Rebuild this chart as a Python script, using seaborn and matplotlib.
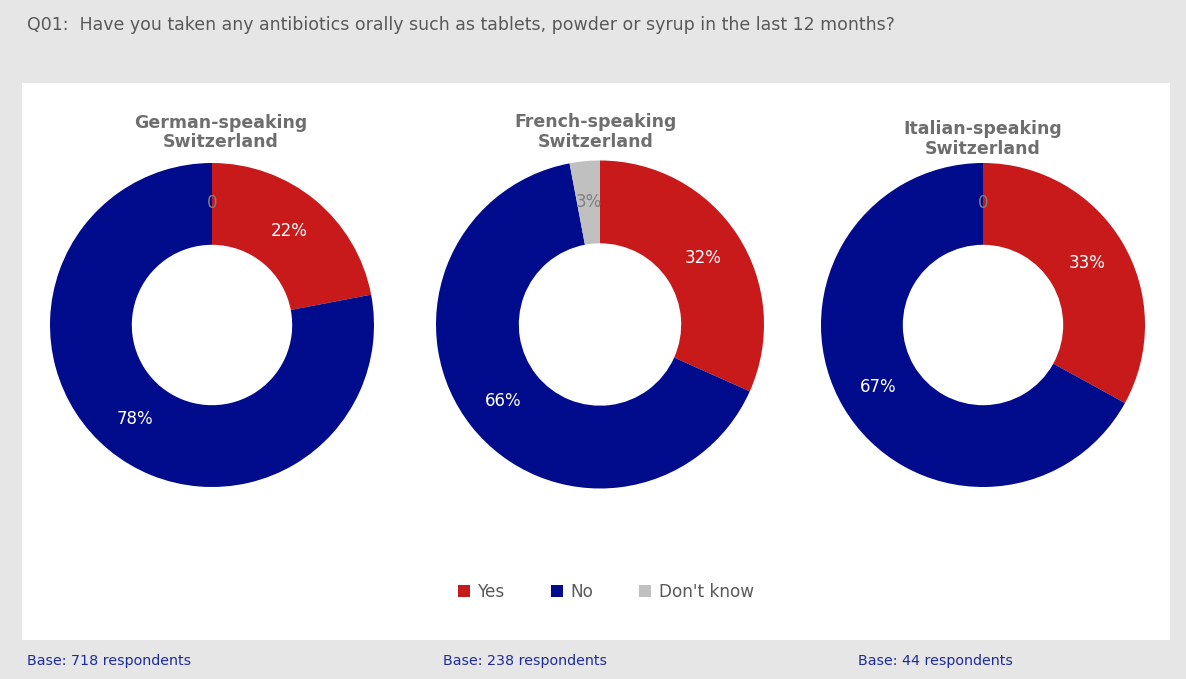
import matplotlib
matplotlib.use("Agg")
import matplotlib.pyplot as plt
from matplotlib.patches import Rectangle, Patch
import seaborn as sns

# ---- data ----
question = "Q01:  Have you taken any antibiotics orally such as tablets, powder or syrup in the last 12 months?"
regions = ["German-speaking\nSwitzerland", "French-speaking\nSwitzerland", "Italian-speaking\nSwitzerland"]
categories = ["Yes", "No", "Don't know"]
yes_vals = [22, 32, 33]
no_vals = [78, 66, 67]
dk_vals = [0, 3, 0]
bases = [718, 238, 44]

# ---- style ----
colors = ["#C8191B", "#000C8C", "#C0C0C0"]
label_colors = ["white", "white", "#7F7F7F"]
sns.set_theme(style="white")
plt.rcParams['font.family'] = ['DejaVu Sans']

W, H = 1186, 679
fig = plt.figure(figsize=(W / 100, H / 100), dpi=100, facecolor="#E6E6E6")
fig.patches.append(Rectangle((22 / W, 1 - 640 / H), (1170 - 22) / W, (640 - 83) / H,
                             transform=fig.transFigure, facecolor="white",
                             edgecolor="none", zorder=-5))

fig.text(27 / W, 1 - 25 / H, question, ha="left", va="center",
         fontsize=12.5, color="#595959")

layout = [(212, 325, 162), (600, 324.5, 164), (983, 325, 162)]
title_pos = [(221, 132.5), (596, 132), (983, 139)]
base_x = [27, 443, 858]

for i, (cx, cy, R) in enumerate(layout):
    vals = [yes_vals[i], no_vals[i], dk_vals[i]]
    lbls = [f"{v}%" if v > 0 else "0" for v in vals]
    ax = fig.add_axes([(cx - R) / W, 1 - (cy + R) / H, 2 * R / W, 2 * R / H], zorder=2)
    ax.patch.set_visible(False)
    wedges, texts = ax.pie(vals, colors=colors, startangle=90, counterclock=False,
                           radius=1, labels=lbls, labeldistance=0.75,
                           wedgeprops=dict(width=0.505, linewidth=0))
    for t, c in zip(texts, label_colors):
        t.set_ha("center")
        t.set_va("center")
        t.set_color(c)
        t.set_fontsize(12)
    ax.set_xlim(-1, 1)
    ax.set_ylim(-1, 1)
    ax.set_aspect("equal")
    ax.axis("off")
    tx, ty = title_pos[i]
    fig.text(tx / W, 1 - ty / H, regions[i], ha="center", va="center",
             fontsize=12.5, fontweight="bold", color="#6E6E6E", linespacing=1.1)
    fig.text(base_x[i] / W, 1 - 661 / H, f"Base: {bases[i]} respondents",
             ha="left", va="center", fontsize=10.3, color="#1F2B99")

handles = [Patch(facecolor=c, edgecolor="none") for c in colors]
fig.legend(handles, categories, loc="center", bbox_to_anchor=(606 / W, 1 - 592 / H),
           ncol=3, frameon=False, fontsize=12.2, handlelength=0.7, handleheight=0.7,
           handletextpad=0.45, columnspacing=2.7, labelcolor="#595959")

fig.savefig("out.png", dpi=100, facecolor=fig.get_facecolor())
